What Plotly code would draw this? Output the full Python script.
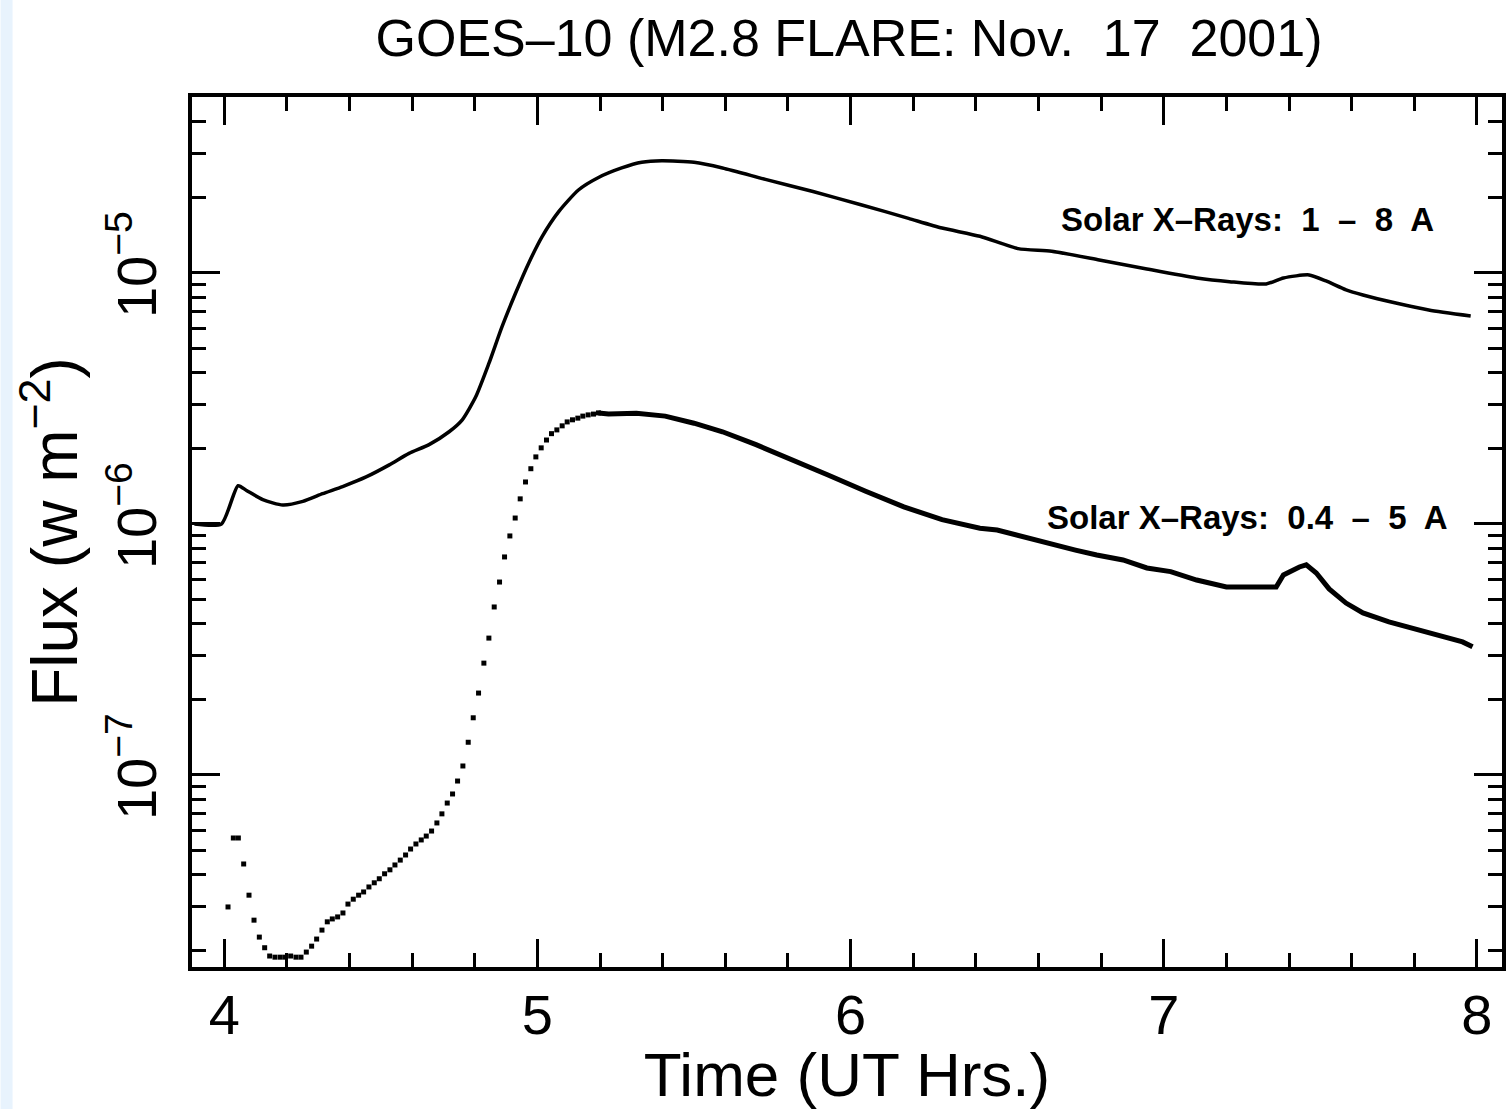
import plotly.graph_objects as go

# GOES-10 X-ray flux, M2.8 flare of 2001-11-17 (time in UT hours, flux in W m^-2)

# 1 - 8 A channel
long_t = [3.905, 3.991, 4.044, 4.071, 4.123, 4.187, 4.251, 4.314, 4.378, 4.453,
          4.527, 4.590, 4.654, 4.718, 4.760, 4.803, 4.845, 4.887, 4.930, 4.972,
          5.015, 5.068, 5.131, 5.195, 5.269, 5.333, 5.397, 5.500, 5.591, 5.728,
          5.880, 6.033, 6.185, 6.292, 6.413, 6.535, 6.642, 6.794, 6.946, 7.105,
          7.210, 7.327, 7.382, 7.464, 7.518, 7.582, 7.636, 7.741, 7.846, 7.980]
long_flux = [1.00e-6, 1.00e-6, 1.42e-6, 1.36e-6, 1.25e-6, 1.19e-6, 1.23e-6, 1.32e-6, 1.41e-6, 1.54e-6,
             1.72e-6, 1.91e-6, 2.07e-6, 2.33e-6, 2.60e-6, 3.21e-6, 4.36e-6, 6.11e-6, 8.30e-6, 1.094e-5,
             1.396e-5, 1.755e-5, 2.14e-5, 2.40e-5, 2.62e-5, 2.76e-5, 2.80e-5, 2.76e-5, 2.62e-5, 2.36e-5,
             2.11e-5, 1.87e-5, 1.65e-5, 1.51e-5, 1.40e-5, 1.25e-5, 1.22e-5, 1.127e-5, 1.037e-5, 9.55e-6,
             9.23e-6, 9.04e-6, 9.55e-6, 9.82e-6, 9.29e-6, 8.56e-6, 8.17e-6, 7.59e-6, 7.12e-6, 6.74e-6]

# 0.4 - 5 A channel, one-minute samples up to the flare maximum
short_t_dots = [4.012, 4.029, 4.045, 4.062, 4.079, 4.095, 4.112, 4.129, 4.145, 4.162,
                4.179, 4.195, 4.212, 4.229, 4.245, 4.262, 4.279, 4.295, 4.312, 4.329,
                4.345, 4.362, 4.379, 4.395, 4.412, 4.429, 4.445, 4.462, 4.479, 4.495,
                4.512, 4.529, 4.545, 4.562, 4.579, 4.595, 4.612, 4.629, 4.645, 4.662,
                4.679, 4.695, 4.712, 4.729, 4.745, 4.762, 4.779, 4.795, 4.812, 4.829,
                4.845, 4.862, 4.879, 4.895, 4.912, 4.929, 4.945, 4.962, 4.979, 4.995,
                5.012, 5.029, 5.045, 5.062, 5.079, 5.095, 5.112, 5.129, 5.145, 5.162,
                5.179, 5.195]
short_flux_dots = [2.98e-8, 5.61e-8, 5.61e-8, 4.42e-8, 3.32e-8, 2.64e-8, 2.26e-8, 2.05e-8, 1.90e-8, 1.88e-8,
                   1.88e-8, 1.88e-8, 1.90e-8, 1.88e-8, 1.88e-8, 1.97e-8, 2.08e-8, 2.22e-8, 2.41e-8, 2.60e-8,
                   2.67e-8, 2.72e-8, 2.82e-8, 3.06e-8, 3.20e-8, 3.32e-8, 3.42e-8, 3.58e-8, 3.72e-8, 3.86e-8,
                   4.04e-8, 4.19e-8, 4.38e-8, 4.58e-8, 4.80e-8, 5.07e-8, 5.31e-8, 5.51e-8, 5.71e-8, 5.98e-8,
                   6.44e-8, 7.00e-8, 7.73e-8, 8.40e-8, 9.46e-8, 1.086e-7, 1.35e-7, 1.69e-7, 2.12e-7, 2.79e-7,
                   3.51e-7, 4.67e-7, 5.87e-7, 7.39e-7, 8.96e-7, 1.056e-6, 1.259e-6, 1.47e-6, 1.66e-6, 1.85e-6,
                   2.01e-6, 2.16e-6, 2.29e-6, 2.37e-6, 2.46e-6, 2.55e-6, 2.60e-6, 2.64e-6, 2.69e-6, 2.72e-6,
                   2.74e-6, 2.77e-6]

# 0.4 - 5 A channel, decay phase
short_t_decay = [5.195, 5.227, 5.316, 5.408, 5.500, 5.591, 5.698, 5.804, 5.926, 6.048,
                 6.170, 6.292, 6.413, 6.468, 6.566, 6.627, 6.718, 6.786, 6.870, 6.946,
                 7.022, 7.105, 7.200, 7.359, 7.382, 7.433, 7.455, 7.487, 7.528, 7.582,
                 7.636, 7.719, 7.795, 7.868, 7.954, 7.986]
short_flux_decay = [2.77e-6, 2.74e-6, 2.76e-6, 2.69e-6, 2.52e-6, 2.33e-6, 2.07e-6, 1.83e-6, 1.57e-6, 1.35e-6,
                    1.17e-6, 1.04e-6, 9.62e-7, 9.46e-7, 8.77e-7, 8.40e-7, 7.87e-7, 7.52e-7, 7.19e-7, 6.68e-7,
                    6.46e-7, 5.98e-7, 5.61e-7, 5.61e-7, 6.26e-7, 6.74e-7, 6.87e-7, 6.38e-7, 5.51e-7, 4.84e-7,
                    4.42e-7, 4.07e-7, 3.85e-7, 3.61e-7, 3.39e-7, 3.24e-7]

x_ticks = [4, 5, 6, 7, 8]
y_decades = [-7, -6, -5]
y_ticktext = ["10<sup>\u22127</sup>", "10<sup>\u22126</sup>", "10<sup>\u22125</sup>"]

FONT = "Liberation Sans, Arial, Helvetica, sans-serif"

fig = go.Figure()
fig.add_trace(go.Scatter(x=long_t, y=long_flux, mode="lines", line_shape="spline",
                         line=dict(color="black", width=3.5, smoothing=0.6), showlegend=False))
fig.add_trace(go.Scatter(x=short_t_dots, y=short_flux_dots, mode="markers",
                         marker=dict(color="black", size=5, symbol="square", line=dict(width=0)),
                         showlegend=False))
fig.add_trace(go.Scatter(x=short_t_decay, y=short_flux_decay, mode="lines",
                         line=dict(color="black", width=5), showlegend=False))

minor_y = [m * 10.0 ** e for e in range(-8, -4) for m in range(2, 10)]

fig.update_layout(
    width=1506, height=1109,
    margin=dict(l=192, r=0, t=97, b=142),
    paper_bgcolor="white", plot_bgcolor="white",
    font=dict(family=FONT, color="black"),
    title=dict(text="GOES\u201310 (M2.8 FLARE: Nov.\u00a0 17\u00a0 2001)",
               x=(192 + 1506) / 2 / 1506, xanchor="center",
               y=1 - 38 / 1109, yanchor="middle",
               font=dict(size=52, family=FONT, color="black")),
    xaxis=dict(range=[3.897, 8.08], tickmode="array", tickvals=x_ticks,
               ticks="inside", ticklen=28, tickwidth=3, tickcolor="black",
               showline=True, linewidth=3.5, linecolor="black", mirror="ticks",
               showgrid=False, zeroline=False,
               tickfont=dict(size=56, family=FONT, color="black"),
               ticklabelstandoff=-4,
               minor=dict(ticks="inside", ticklen=14, tickwidth=3, tickcolor="black",
                          dtick=0.2, tick0=4, showgrid=False),
               title=dict(text="Time (UT Hrs.)", standoff=0,
                          font=dict(size=62, family=FONT, color="black"))),
    yaxis=dict(type="log", range=[-7.765, -4.299], tickmode="array",
               tickvals=[10.0 ** d for d in y_decades], ticktext=y_ticktext,
               tickangle=-90,
               ticks="inside", ticklen=28, tickwidth=3, tickcolor="black",
               showline=True, linewidth=3.5, linecolor="black", mirror="ticks",
               showgrid=False, zeroline=False,
               tickfont=dict(size=56, family=FONT, color="black"),
               ticklabelstandoff=10,
               minor=dict(ticks="inside", ticklen=14, tickwidth=3, tickcolor="black",
                          tickvals=minor_y, showgrid=False),
               title=dict(text="Flux (w m<sup>\u22122</sup>)", standoff=0,
                          font=dict(size=64, family=FONT, color="black"))),
)

# light blue strip along the left edge of the page
fig.add_shape(type="rect", xref="paper", yref="paper",
              x0=-192 / 1314, x1=(12 - 192) / 1314, y0=-142 / 870, y1=(1109 - 142) / 870,
              fillcolor="#e8f3fd", line=dict(width=0), layer="below")

label_font = dict(size=33, family=FONT, color="black")
fig.add_annotation(xref="paper", yref="paper", x=(1251 - 192) / 1314, y=(967 - 220) / 870,
                   text="<b>Solar X\u2013Rays:\u00a0 1\u00a0 \u2013\u00a0 8\u00a0 A</b>",
                   showarrow=False, xanchor="center", yanchor="middle", font=label_font)
fig.add_annotation(xref="paper", yref="paper", x=(1250 - 192) / 1314, y=(967 - 517) / 870,
                   text="<b>Solar X\u2013Rays:\u00a0 0.4\u00a0 \u2013\u00a0 5\u00a0 A</b>",
                   showarrow=False, xanchor="center", yanchor="middle", font=label_font)

fig.write_html("out.html")
